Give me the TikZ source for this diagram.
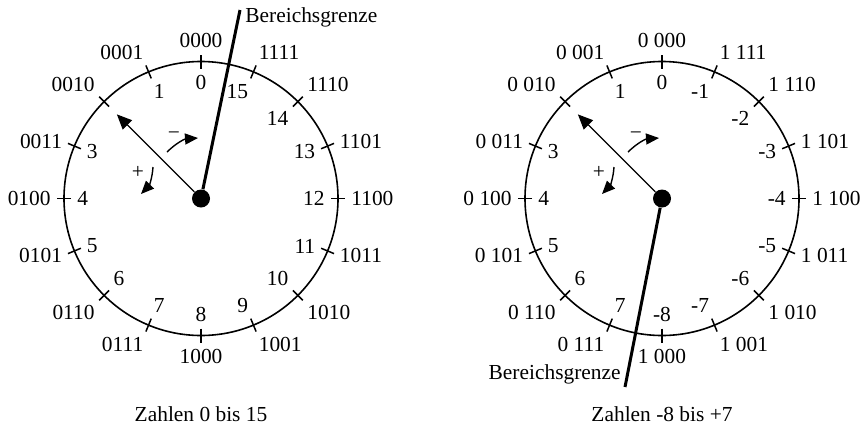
\documentclass[tikz,border=0pt]{standalone}
\usepackage{fontspec}
\setmainfont{Liberation Serif}
\usetikzlibrary{arrows.meta}

\begin{document}
\begin{tikzpicture}[
  x=0.5pt, y=0.5pt,
  font=\fontsize{10.7}{13}\selectfont,
  dial/.style={line width=0.8pt},
  dialtick/.style={line width=0.75pt},
  hub/.style={circle, fill=black, inner sep=0pt, minimum size=9pt},
  pointer/.style={-{Triangle[length=7.5pt,width=6.5pt]}, line width=0.7pt},
  limit/.style={line width=1.5pt},
  turn/.style={-{Triangle[length=6.5pt,width=5.5pt]}, line width=0.7pt},
  bits/.style={inner sep=0pt},
  value/.style={inner sep=0pt}
]
  \useasboundingbox (0,0) rectangle (860,425);

  % the two dials
  \node[hub] (hubL) at (201,226.5) {};
  \node[hub] (hubR) at (662,226.5) {};
  \draw[dial] (hubL.center) circle[radius=137];
  \draw[dial] (hubR.center) circle[radius=137];

  \foreach \k/\num/\sig/\bits/\sbits/\oa/\ia in {
    0/0/0/0000/0 000/south/north,
    1/1/1/0001/0 001/south east/north west,
    2/2/2/0010/0 010/south east/north west,
    3/3/3/0011/0 011/east/west,
    4/4/4/0100/0 100/east/west,
    5/5/5/0101/0 101/east/west,
    6/6/6/0110/0 110/north east/south west,
    7/7/7/0111/0 111/north east/south west,
    8/8/-8/1000/1 000/north/south,
    9/9/-7/1001/1 001/north west/south east,
    10/10/-6/1010/1 010/north west/south east,
    11/11/-5/1011/1 011/west/east,
    12/12/-4/1100/1 100/west/east,
    13/13/-3/1101/1 101/west/east,
    14/14/-2/1110/1 110/south west/north east,
    15/15/-1/1111/1 111/south west/north east} {
    \draw[dialtick] ([shift={(90+22.5*\k:130)}]hubL.center) -- ([shift={(90+22.5*\k:144)}]hubL.center);
    \draw[dialtick] ([shift={(90+22.5*\k:130)}]hubR.center) -- ([shift={(90+22.5*\k:144)}]hubR.center);
    \node[bits, anchor=\oa] (binL\k) at ([shift={(90+22.5*\k:150)}]hubL.center) {\bits};
    \node[bits, anchor=\oa] (binR\k) at ([shift={(90+22.5*\k:150)}]hubR.center) {\sbits};
    \ifnum\k=2\else
      \node[value, anchor=\ia] (valL\k) at ([shift={(90+22.5*\k:124)}]hubL.center) {\num};
      \node[value, anchor=\ia] (valR\k) at ([shift={(90+22.5*\k:124)}]hubR.center) {\sig};
    \fi
  }

  % pointers
  \coordinate (tipL) at ([shift={(135:119)}]hubL.center);
  \coordinate (tipR) at ([shift={(135:119)}]hubR.center);
  \draw[pointer] (hubL) -- (tipL);
  \draw[pointer] (hubR) -- (tipR);

  % range limits
  \coordinate (limL) at (240,415);
  \coordinate (limR) at (625,38);
  \draw[limit] (hubL) -- (limL);
  \draw[limit] (hubR) -- (limR);
  \node[anchor=base west, inner sep=0pt] (limtextL) at (245,403) {Bereichsgrenze};
  \node[anchor=base east, inner sep=0pt] (limtextR) at (621,46) {Bereichsgrenze};

  % counting directions
  \coordinate (minusL0) at (167,273);
  \coordinate (minusL1) at (198,287);
  \coordinate (plusL0) at (153,258);
  \coordinate (plusL1) at (141,231);
  \coordinate (minusR0) at (628,273);
  \coordinate (minusR1) at (659,287);
  \coordinate (plusR0) at (614,258);
  \coordinate (plusR1) at (602,231);
  \draw[turn] (minusL0) to[bend left=20] (minusL1);
  \draw[turn] (plusL0) to[bend left=20] (plusL1);
  \draw[turn] (minusR0) to[bend left=20] (minusR1);
  \draw[turn] (plusR0) to[bend left=20] (plusR1);
  \node[inner sep=0pt] (minusLabelL) at (174,289) {−};
  \node[inner sep=0pt] (plusLabelL) at (138,253) {+};
  \node[inner sep=0pt] (minusLabelR) at (636,289) {−};
  \node[inner sep=0pt] (plusLabelR) at (599,253) {+};

  % captions
  \node[anchor=base] (capL) at (201,4) {Zahlen 0 bis 15};
  \node[anchor=base] (capR) at (662,4) {Zahlen -8 bis +7};
\end{tikzpicture}
\end{document}
